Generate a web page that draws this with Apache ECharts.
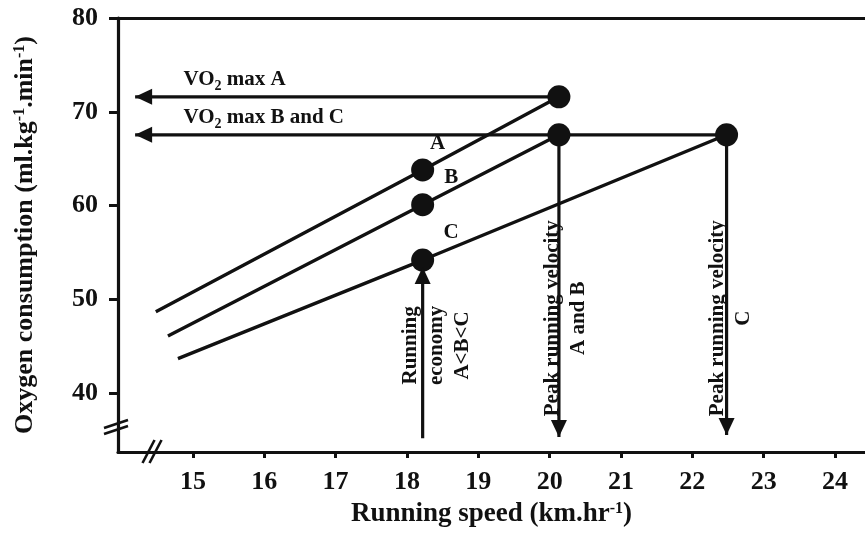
<!DOCTYPE html>
<html>
<head>
<meta charset="utf-8">
<script src="https://cdn.jsdelivr.net/npm/echarts@6/dist/echarts.min.js"></script>
<style>
  html, body { margin: 0; padding: 0; background: #fff; }
  #chart { width: 865px; height: 541px; }
</style>
</head>
<body>
<div id="chart"></div>
<script>
// Axis ticks (km/h and ml/kg/min)
const speedTicks = [15, 16, 17, 18, 19, 20, 21, 22, 23, 24];
const vo2Ticks = [40, 50, 60, 70, 80];

// Oxygen-cost lines for runners A, B and C: [speed, VO2]
const runnerA = [[14.48, 48.7], [18.22, 63.8], [20.13, 71.6]];
const runnerB = [[14.65, 46.1], [18.22, 60.1], [20.13, 67.55]];
const runnerC = [[14.79, 43.7], [18.22, 54.2], [22.48, 67.55]];

// Arrows: [from, to] with the head at "to"
const arrowVo2A = [[20.13, 71.6], [14.19, 71.6]];
const arrowVo2BC = [[22.48, 67.55], [14.19, 67.55]];
const arrowEconomy = [[18.22, 35.2], [18.22, 53.45]];
const arrowPeakAB = [[20.13, 67.55], [20.13, 35.35]];
const arrowPeakC = [[22.48, 67.55], [22.48, 35.55]];

// Axis ranges and the broken-axis positions
const speedRange = [13.95, 24.42];
const vo2Range = [33.74, 80];
const speedBreak = 14.42;
const vo2Break = 36.4;

// Text notes placed in data units
const notes = [
  { text: 'VO{sub|2} max A', at: [14.86, 73.4], place: 'right', rotate: 0 },
  { text: 'VO{sub|2} max B and C', at: [14.86, 69.35], place: 'right', rotate: 0 },
  { text: 'A', at: [18.43, 66.6], place: 'inside', rotate: 0 },
  { text: 'B', at: [18.62, 63.0], place: 'inside', rotate: 0 },
  { text: 'C', at: [18.62, 57.1], place: 'inside', rotate: 0 },
  { text: 'Running\neconomy\nA<B<C', at: [18.41, 45.1], place: 'inside', rotate: 90 },
  { text: 'Peak running velocity\nA and B', at: [20.22, 48.0], place: 'inside', rotate: 90 },
  { text: 'Peak running velocity\nC', at: [22.53, 48.0], place: 'inside', rotate: 90 }
];

const ink = '#111111';
const serif = '"Liberation Serif", "Times New Roman", serif';

function runnerSeries(pts) {
  return {
    type: 'line',
    data: pts.map((p, i) => ({ value: p, symbol: i === 0 ? 'none' : 'circle' })),
    symbolSize: 23,
    lineStyle: { color: ink, width: 3.4 },
    itemStyle: { color: ink, opacity: 1 },
    z: 5
  };
}

// Shaft + triangular head; head tip sits on the arrow's end value
function arrowSeries(pts) {
  const [a, b] = pts;
  const headLen = 17, headWide = 16;
  let rot, off;
  if (b[0] < a[0]) { rot = 90; off = [headLen / 2, 0]; }
  else if (b[1] > a[1]) { rot = 0; off = [0, headLen / 2]; }
  else { rot = 180; off = [0, -headLen / 2]; }
  return [
    {
      type: 'line',
      data: pts,
      symbol: 'none',
      lineStyle: { color: ink, width: 3.2 },
      z: 4
    },
    {
      type: 'scatter',
      data: [b],
      symbol: 'triangle',
      symbolSize: [headWide, headLen],
      symbolRotate: rot,
      symbolOffset: off,
      itemStyle: { color: ink, opacity: 1 },
      z: 6
    }
  ];
}

const noteSeries = {
  type: 'scatter',
  symbolSize: 1,
  itemStyle: { color: 'rgba(0,0,0,0)', opacity: 1 },
  z: 7,
  data: notes.map(n => ({
    value: n.at,
    label: {
      show: true,
      formatter: n.text,
      position: n.place,
      distance: 0,
      rotate: n.rotate,
      align: n.place === 'right' ? 'left' : 'center',
      verticalAlign: 'middle',
      fontFamily: serif,
      fontWeight: 'bold',
      fontSize: 21,
      lineHeight: 26,
      color: ink,
      opacity: 1,
      rich: {
        sub: { fontFamily: serif, fontWeight: 'bold', fontSize: 14, color: ink, verticalAlign: 'bottom', lineHeight: 14 }
      }
    }
  }))
};

const chart = echarts.init(document.getElementById('chart'));

const option = {
  animation: false,
  backgroundColor: '#fff',
  grid: { left: 118, right: 0, top: 18, bottom: 89, containLabel: false, outerBoundsMode: 'none' },
  xAxis: [
    {
      type: 'value',
      min: speedRange[0],
      max: speedRange[1],
      splitLine: { show: false },
      axisLine: { lineStyle: { color: ink, width: 3.2 } },
      axisTick: { customValues: speedTicks, length: 6, lineStyle: { color: ink, width: 3 } },
      axisLabel: {
        customValues: speedTicks, margin: 17,
        fontFamily: serif, fontWeight: 'bold', fontSize: 26, color: ink
      },
      name: 'Running speed (km.hr{sup|-1})',
      nameLocation: 'middle',
      nameGap: 49,
      nameTextStyle: {
        fontFamily: serif, fontWeight: 'bold', fontSize: 27, color: ink,
        rich: { sup: { fontFamily: serif, fontWeight: 'bold', fontSize: 16, color: ink, verticalAlign: 'top', lineHeight: 16 } }
      }
    },
    {
      type: 'value',
      position: 'top',
      min: speedRange[0],
      max: speedRange[1],
      splitLine: { show: false },
      axisLine: { show: true, onZero: false, lineStyle: { color: ink, width: 3.2 } },
      axisTick: { show: false },
      axisLabel: { show: false }
    }
  ],
  yAxis: {
    type: 'value',
    min: vo2Range[0],
    max: vo2Range[1],
    splitLine: { show: false },
    axisLine: { show: true, lineStyle: { color: ink, width: 3.2 } },
    axisTick: { show: true, customValues: vo2Ticks, length: 9, lineStyle: { color: ink, width: 3 } },
    axisLabel: {
      customValues: vo2Ticks, margin: 20,
      fontFamily: serif, fontWeight: 'bold', fontSize: 26, color: ink
    },
    name: 'Oxygen consumption (ml.kg{sup|-1}.min{sup|-1})',
    nameLocation: 'middle',
    nameGap: 80,
    nameTextStyle: {
      fontFamily: serif, fontWeight: 'bold', fontSize: 26, color: ink,
      rich: { sup: { fontFamily: serif, fontWeight: 'bold', fontSize: 16, color: ink, verticalAlign: 'top', lineHeight: 16 } }
    }
  },
  series: [
    runnerSeries(runnerA),
    runnerSeries(runnerB),
    runnerSeries(runnerC),
    ...arrowSeries(arrowVo2A),
    ...arrowSeries(arrowVo2BC),
    ...arrowSeries(arrowEconomy),
    ...arrowSeries(arrowPeakAB),
    ...arrowSeries(arrowPeakC),
    noteSeries
  ]
};

chart.setOption(option);

// Double-slash marks where both axes are broken
const yBreakPx = chart.convertToPixel({ xAxisIndex: 0, yAxisIndex: 0 }, [speedRange[0], vo2Break]);
const xBreakPx = chart.convertToPixel({ xAxisIndex: 0, yAxisIndex: 0 }, [speedBreak, vo2Range[0]]);
const slash = (x1, y1, x2, y2) => ({
  type: 'line',
  shape: { x1, y1, x2, y2 },
  style: { stroke: ink, lineWidth: 2.6 },
  z: 10
});
chart.setOption({
  graphic: [
    slash(yBreakPx[0] - 14, yBreakPx[1] + 1, yBreakPx[0] + 10, yBreakPx[1] - 7),
    slash(yBreakPx[0] - 14, yBreakPx[1] + 7, yBreakPx[0] + 10, yBreakPx[1] - 1),
    slash(xBreakPx[0] - 9, xBreakPx[1] + 11, xBreakPx[0] + 3, xBreakPx[1] - 12),
    slash(xBreakPx[0] - 2, xBreakPx[1] + 11, xBreakPx[0] + 10, xBreakPx[1] - 12)
  ]
});
</script>
</body>
</html>
